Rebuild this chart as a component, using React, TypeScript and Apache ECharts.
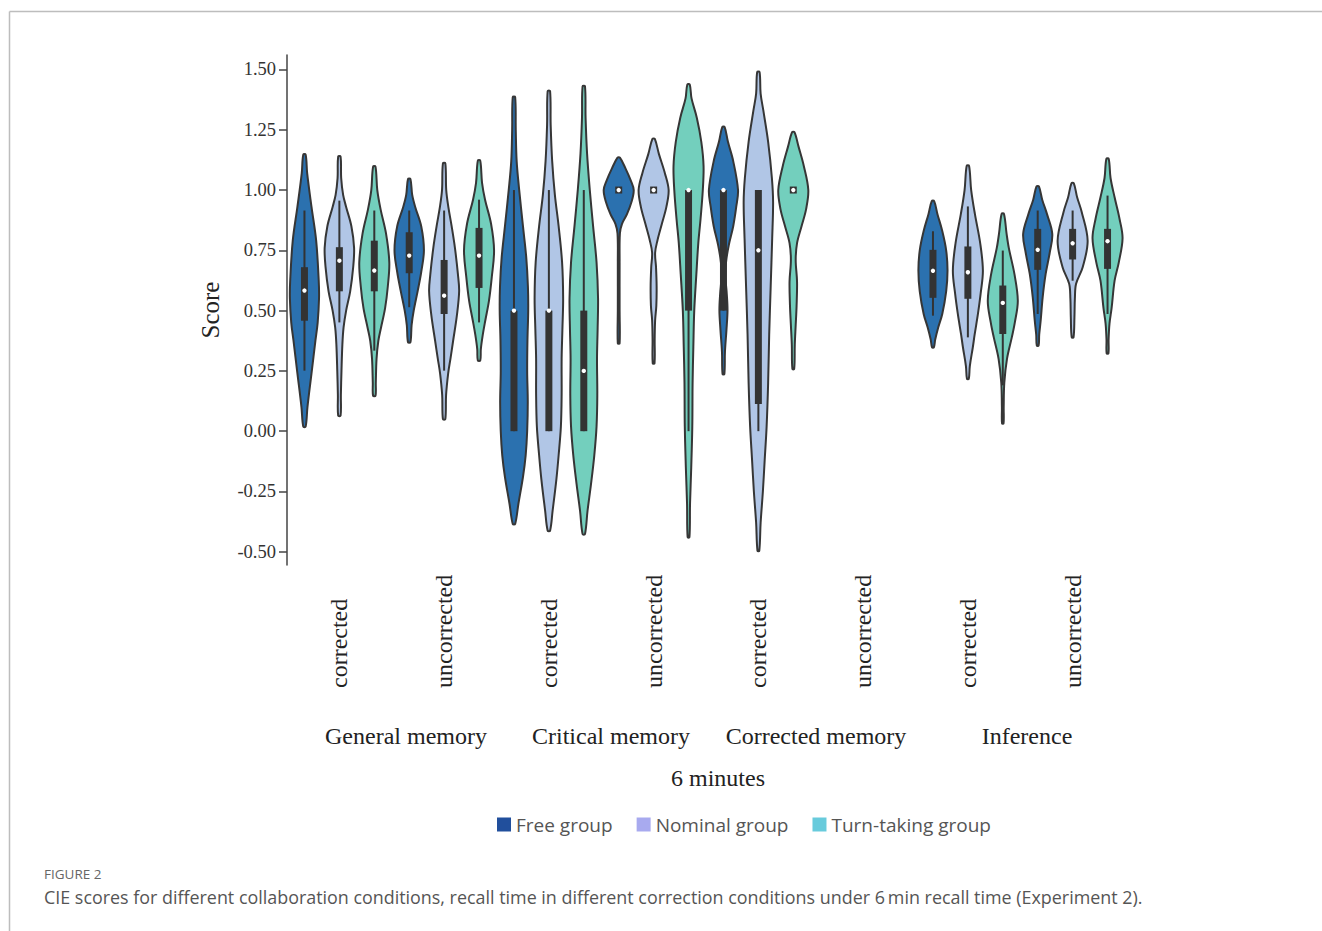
import React, { useEffect, useRef } from "react";
import * as echarts from "echarts";

// ---------- data ----------
const categories = [
  "corrected", "uncorrected", "corrected", "uncorrected",
  "corrected", "uncorrected", "corrected", "uncorrected",
];
const groupLabels = ["General memory", "Critical memory", "Corrected memory", "Inference"];
const timeLabel = "6 minutes";
const seriesNames = ["Free group", "Nominal group", "Turn-taking group"];
const yTicks = [-0.5, -0.25, 0, 0.25, 0.5, 0.75, 1.0, 1.25, 1.5];

// box stats per category: [whiskerLow, q1, median, q3, whiskerHigh]
const freeBox = [
  [0.251, 0.458, 0.583, 0.68, 0.915],
  [0.514, 0.655, 0.728, 0.825, 0.915],
  [0, 0, 0.5, 0.5, 1.0],
  [1.0, 1.0, 1.0, 1.0, 1.0],
  [0.5, 0.5, 1.0, 1.0, 1.0],
  null,
  [0.479, 0.553, 0.665, 0.752, 0.829],
  [0.486, 0.669, 0.752, 0.839, 0.915],
];
const nominalBox = [
  [0.451, 0.58, 0.707, 0.763, 0.956],
  [0.251, 0.486, 0.562, 0.71, 0.915],
  [0, 0, 0.5, 0.5, 1.0],
  [1.0, 1.0, 1.0, 1.0, 1.0],
  [0, 0.113, 0.75, 1.0, 1.0],
  null,
  [0.389, 0.549, 0.659, 0.766, 0.932],
  [0.624, 0.712, 0.779, 0.839, 0.915],
];
const turnBox = [
  [0.334, 0.58, 0.666, 0.79, 0.915],
  [0.451, 0.594, 0.728, 0.843, 0.96],
  [0, 0, 0.25, 0.5, 1.0],
  [0, 0.5, 1.0, 1.0, 1.0],
  [1.0, 1.0, 1.0, 1.0, 1.0],
  null,
  [0.19, 0.403, 0.532, 0.604, 0.749],
  [0.486, 0.673, 0.788, 0.839, 0.977],
];

// violin density outlines per category: [score, relative half-width]
const freeViolin = [
  [[1.147, 0.08], [1.07, 0.18], [0.93, 0.47], [0.79, 0.78], [0.625, 0.95], [0.55, 0.97], [0.45, 0.88], [0.375, 0.73], [0.24, 0.47], [0.1, 0.2], [0.019, 0.08]],
  [[1.046, 0.08], [0.98, 0.2], [0.93, 0.4], [0.85, 0.8], [0.75, 0.98], [0.66, 0.8], [0.583, 0.57], [0.5, 0.3], [0.44, 0.16], [0.369, 0.08]],
  [[1.385, 0.08], [1.25, 0.12], [1.12, 0.18], [1.0, 0.35], [0.85, 0.6], [0.72, 0.82], [0.6, 0.93], [0.5, 0.95], [0.38, 0.9], [0.25, 0.88], [0.12, 0.92], [0.0, 0.88], [-0.1, 0.78], [-0.19, 0.6], [-0.3, 0.3], [-0.385, 0.08]],
  [[1.134, 0.08], [1.09, 0.45], [1.04, 0.8], [1.0, 1.0], [0.95, 0.85], [0.9, 0.55], [0.86, 0.22], [0.82, 0.08], [0.7, 0.06], [0.5, 0.06], [0.364, 0.06]],
  [[1.261, 0.08], [1.2, 0.3], [1.12, 0.65], [1.0, 0.97], [0.93, 0.85], [0.85, 0.65], [0.77, 0.35], [0.7, 0.17], [0.64, 0.13], [0.57, 0.22], [0.5, 0.27], [0.42, 0.2], [0.33, 0.1], [0.237, 0.06]],
  null,
  [[0.954, 0.08], [0.9, 0.3], [0.83, 0.62], [0.75, 0.88], [0.666, 0.97], [0.58, 0.88], [0.486, 0.62], [0.43, 0.35], [0.38, 0.15], [0.348, 0.06]],
  [[1.015, 0.08], [0.96, 0.3], [0.9, 0.62], [0.818, 0.97], [0.74, 0.8], [0.652, 0.53], [0.555, 0.33], [0.46, 0.2], [0.4, 0.1], [0.355, 0.06]],
];
const nominalViolin = [
  [[1.139, 0.08], [1.05, 0.12], [0.98, 0.25], [0.93, 0.45], [0.85, 0.8], [0.76, 0.98], [0.68, 0.92], [0.58, 0.72], [0.5, 0.45], [0.43, 0.28], [0.36, 0.2], [0.25, 0.14], [0.15, 0.1], [0.064, 0.08]],
  [[1.111, 0.08], [1.0, 0.14], [0.93, 0.28], [0.85, 0.5], [0.76, 0.72], [0.65, 0.92], [0.58, 1.0], [0.48, 0.85], [0.375, 0.6], [0.3, 0.42], [0.24, 0.27], [0.15, 0.13], [0.05, 0.08]],
  [[1.41, 0.08], [1.27, 0.12], [1.12, 0.22], [0.98, 0.4], [0.85, 0.65], [0.7, 0.88], [0.55, 0.95], [0.42, 0.9], [0.3, 0.85], [0.15, 0.85], [0.02, 0.8], [-0.1, 0.65], [-0.2, 0.5], [-0.33, 0.25], [-0.413, 0.08]],
  [[1.212, 0.08], [1.15, 0.35], [1.07, 0.75], [1.0, 1.0], [0.93, 0.85], [0.86, 0.55], [0.79, 0.25], [0.74, 0.1], [0.68, 0.16], [0.6, 0.2], [0.52, 0.18], [0.46, 0.1], [0.38, 0.07], [0.281, 0.06]],
  [[1.489, 0.08], [1.4, 0.15], [1.33, 0.33], [1.2, 0.65], [1.05, 0.9], [0.95, 0.98], [0.8, 0.92], [0.6, 0.82], [0.4, 0.72], [0.2, 0.65], [0.02, 0.55], [-0.12, 0.42], [-0.25, 0.3], [-0.38, 0.15], [-0.496, 0.06]],
  null,
  [[1.1, 0.08], [1.0, 0.22], [0.9, 0.47], [0.78, 0.82], [0.666, 1.0], [0.57, 0.85], [0.486, 0.67], [0.4, 0.45], [0.348, 0.33], [0.27, 0.13], [0.217, 0.06]],
  [[1.028, 0.08], [0.97, 0.3], [0.91, 0.6], [0.79, 1.0], [0.68, 0.67], [0.611, 0.23], [0.55, 0.15], [0.47, 0.12], [0.389, 0.06]],
];
const turnViolin = [
  [[1.097, 0.08], [1.0, 0.2], [0.92, 0.42], [0.82, 0.78], [0.7, 1.0], [0.6, 0.9], [0.51, 0.72], [0.43, 0.45], [0.375, 0.27], [0.3, 0.15], [0.2, 0.1], [0.147, 0.08]],
  [[1.122, 0.08], [1.03, 0.2], [0.96, 0.4], [0.86, 0.8], [0.75, 1.0], [0.64, 0.85], [0.54, 0.66], [0.46, 0.42], [0.4, 0.25], [0.34, 0.12], [0.293, 0.08]],
  [[1.43, 0.08], [1.3, 0.12], [1.15, 0.22], [1.0, 0.4], [0.85, 0.62], [0.7, 0.85], [0.55, 0.95], [0.42, 0.92], [0.3, 0.88], [0.15, 0.9], [0.02, 0.85], [-0.1, 0.7], [-0.22, 0.48], [-0.33, 0.25], [-0.427, 0.08]],
  [[1.438, 0.08], [1.38, 0.2], [1.3, 0.55], [1.2, 0.85], [1.1, 1.0], [1.0, 0.95], [0.88, 0.8], [0.78, 0.65], [0.65, 0.52], [0.5, 0.38], [0.35, 0.32], [0.2, 0.27], [0.02, 0.25], [-0.15, 0.18], [-0.3, 0.1], [-0.44, 0.06]],
  [[1.24, 0.08], [1.18, 0.35], [1.1, 0.7], [1.0, 1.0], [0.92, 0.85], [0.85, 0.55], [0.78, 0.25], [0.71, 0.16], [0.62, 0.25], [0.52, 0.22], [0.44, 0.16], [0.36, 0.1], [0.258, 0.06]],
  null,
  [[0.901, 0.08], [0.82, 0.25], [0.76, 0.4], [0.65, 0.78], [0.541, 1.0], [0.45, 0.8], [0.389, 0.6], [0.3, 0.28], [0.2, 0.1], [0.1, 0.06], [0.032, 0.05]],
  [[1.129, 0.08], [1.05, 0.2], [0.97, 0.47], [0.88, 0.8], [0.8, 1.0], [0.7, 0.75], [0.624, 0.47], [0.51, 0.27], [0.446, 0.13], [0.38, 0.07], [0.323, 0.06]],
];

const captionTitle = "FIGURE 2";
const captionText =
  "CIE scores for different collaboration conditions, recall time in different correction conditions under 6\u2009min recall time (Experiment 2).";

// ---------- styling ----------
const SERIF = "'Liberation Serif', 'Times New Roman', serif";
const SANS = "'Open Sans', 'Noto Sans', sans-serif";
const violinFill = ["#2b71af", "#b1c6e6", "#73cfbd"];
const legendColor = ["#214f9c", "#a8aaef", "#68cbdc"];
const OUTLINE = "#363636";
const BOXC = "#333333";

const boxes = [freeBox, nominalBox, turnBox];
const violins = [freeViolin, nominalViolin, turnViolin];

function makeRenderItem(g: number) {
  return (params: any, api: any) => {
    const cat = api.value(0);
    const prof = violins[g][cat];
    const box = boxes[g][cat];
    if (!prof || !box) return null;
    const band = api.size([1, 0])[0];
    const slot = band / 3;
    const cx = api.coord([cat, 0])[0] + (g - 1) * slot;
    const maxHalf = slot * 0.43;
    const py = (v: number) => api.coord([cat, v])[1];
    const right = prof.map((p: number[]) => [cx + p[1] * maxHalf, py(p[0])]);
    const left = prof
      .slice()
      .reverse()
      .map((p: number[]) => [cx - p[1] * maxHalf, py(p[0])]);
    const [wl, q1, med, q3, wh] = box;
    const bw = slot * 0.2;
    let yTop = py(q3);
    let yBot = py(q1);
    if (yBot - yTop < 7) {
      const m = (yTop + yBot) / 2;
      yTop = m - 3.5;
      yBot = m + 3.5;
    }
    const children: any[] = [
      {
        type: "polygon",
        shape: { points: right.concat(left), smooth: 0.35 },
        style: { fill: violinFill[g], stroke: OUTLINE, lineWidth: 2 },
      },
    ];
    if (wh > wl) {
      children.push({
        type: "line",
        shape: { x1: cx, y1: py(wh), x2: cx, y2: py(wl) },
        style: { stroke: BOXC, lineWidth: 2 },
      });
    }
    children.push({
      type: "rect",
      shape: { x: cx - bw / 2, y: yTop, width: bw, height: yBot - yTop },
      style: { fill: BOXC },
    });
    children.push({
      type: "circle",
      shape: { cx: cx, cy: py(med), r: 2.2 },
      style: { fill: "#ffffff" },
    });
    return { type: "group", children };
  };
}

function seriesData(g: number) {
  const out: any[] = [];
  boxes[g].forEach((b, i) => {
    if (b) out.push([i, ...b]);
  });
  return out;
}

export default function App() {
  const ref = useRef<HTMLDivElement>(null);
  useEffect(() => {
    if (!ref.current) return;
    const chart = echarts.init(ref.current, undefined, { renderer: "svg" });
    const groupCenters = [406, 611, 816, 1027];
    const option: any = {
      animation: false,
      backgroundColor: "#ffffff",
      grid: { left: 287, top: 55, width: 838, height: 510, containLabel: false },
      xAxis: {
        type: "category",
        data: categories,
        axisLine: { show: false },
        axisTick: { show: false },
        splitLine: { show: false },
        axisLabel: {
          interval: 0,
          rotate: 90,
          align: "left",
          verticalAlign: "middle",
          margin: 123,
          fontFamily: SERIF,
          fontSize: 24,
          color: "#222",
        },
      },
      yAxis: {
        type: "value",
        min: -0.555,
        max: 1.56,
        name: "Score",
        nameLocation: "middle",
        nameGap: 64,
        nameTextStyle: { fontFamily: SERIF, fontSize: 25, color: "#222" },
        axisLine: { show: true, lineStyle: { color: "#444", width: 1.5 } },
        axisTick: {
          show: true,
          length: 8,
          customValues: yTicks,
          lineStyle: { color: "#444", width: 1.5 },
        },
        axisLabel: {
          customValues: yTicks,
          formatter: (v: number) => v.toFixed(2),
          fontFamily: SERIF,
          fontSize: 18.5,
          color: "#333",
          margin: 11,
        },
        splitLine: { show: false },
      },
      legend: {
        data: seriesNames,
        icon: "rect",
        itemWidth: 14,
        itemHeight: 14,
        itemGap: 24,
        left: 492,
        top: 810,
        textStyle: { fontFamily: SANS, fontSize: 19, color: "#555" },
      },
      series: seriesNames.map((name, g) => ({
        name,
        type: "custom",
        renderItem: makeRenderItem(g),
        itemStyle: { color: legendColor[g] },
        encode: { x: 0, y: [1, 2, 3, 4, 5] },
        data: seriesData(g),
        z: 2,
      })),
      graphic: [
        {
          type: "line",
          shape: { x1: 9.5, y1: 11.5, x2: 1322, y2: 11.5 },
          style: { stroke: "#bdbdbd", lineWidth: 1.5 },
        },
        {
          type: "line",
          shape: { x1: 9.5, y1: 11.5, x2: 9.5, y2: 931 },
          style: { stroke: "#bdbdbd", lineWidth: 1.5 },
        },
        ...groupLabels.map((t, i) => ({
          type: "text",
          x: groupCenters[i],
          y: 736,
          style: {
            text: t,
            fontFamily: SERIF,
            fontSize: 24,
            fill: "#222",
            align: "center",
            verticalAlign: "middle",
          },
        })),
        {
          type: "text",
          x: 718,
          y: 778,
          style: {
            text: timeLabel,
            fontFamily: SERIF,
            fontSize: 24,
            fill: "#222",
            align: "center",
            verticalAlign: "middle",
          },
        },
        {
          type: "text",
          x: 44,
          y: 874,
          style: {
            text: captionTitle,
            fontFamily: SANS,
            fontSize: 13.5,
            fill: "#666",
            align: "left",
            verticalAlign: "middle",
          },
        },
        {
          type: "text",
          x: 44,
          y: 897,
          style: {
            text: captionText,
            fontFamily: SANS,
            fontSize: 17.9,
            fill: "#555",
            align: "left",
            verticalAlign: "middle",
          },
        },
      ],
    };
    chart.setOption(option);
    return () => chart.dispose();
  }, []);
  return (
    <div
      ref={ref}
      style={{ position: "absolute", left: 0, top: 0, width: 1322, height: 931 }}
    />
  );
}
